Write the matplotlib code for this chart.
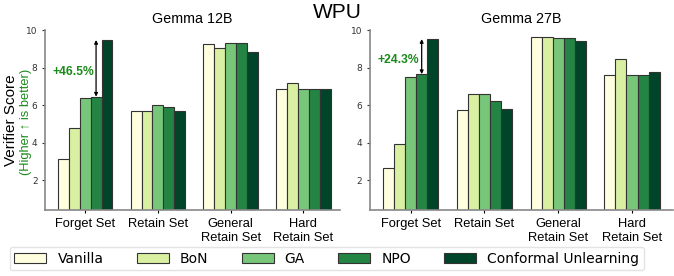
import numpy as np
import matplotlib.pyplot as plt

categories = ["Forget Set", "Retain Set", "General\nRetain Set", "Hard\nRetain Set"]
methods = ["Vanilla", "BoN", "GA", "NPO", "Conformal Unlearning"]
colors = ["#ffffe0", "#d9f0a3", "#78c679", "#238443", "#004529"]

# rows = methods, cols = categories
gemma12 = [
    [3.1, 5.7, 9.25, 6.85],
    [4.75, 5.7, 9.05, 7.2],
    [6.4, 6.0, 9.33, 6.85],
    [6.45, 5.9, 9.33, 6.88],
    [9.47, 5.68, 8.85, 6.87],
]
gemma27 = [
    [2.62, 5.73, 9.62, 7.6],
    [3.92, 6.57, 9.62, 8.44],
    [7.51, 6.57, 9.56, 7.6],
    [7.65, 6.21, 9.6, 7.6],
    [9.52, 5.8, 9.44, 7.76],
]
panels = [("Gemma 12B", gemma12, "+46.5%"), ("Gemma 27B", gemma27, "+24.3%")]

fig = plt.figure(figsize=(6.74, 2.76), dpi=100)
axes = [fig.add_axes([0.067, 0.239, 0.437, 0.652]),
        fig.add_axes([0.549, 0.239, 0.45, 0.652])]

x = np.arange(len(categories))
w = 0.15
for ax, (name, vals, gain) in zip(axes, panels):
    for i, m in enumerate(methods):
        ax.bar(x + (i - 2) * w, vals[i], w, color=colors[i], edgecolor="#333333",
               linewidth=0.8, label=m)
    ax.set_xlim(-0.55, 3.5 if ax is axes[0] else 3.56)
    ax.set_ylim(0.4, 10)
    ax.set_yticks([2, 4, 6, 8, 10])
    ax.set_xticks(x)
    ax.set_xticklabels(categories, family="Liberation Sans", fontsize=9.3)
    ax.tick_params(axis="y", labelsize=6.5, length=2, colors="#333333")
    ax.tick_params(axis="x", length=2, pad=4)
    for s in ["top", "right"]:
        ax.spines[s].set_visible(False)
    for s in ["left", "bottom"]:
        ax.spines[s].set_color("#888888")
        ax.spines[s].set_linewidth(1.2)
    ax.set_title(name, family="Liberation Sans", fontsize=10.3, pad=5)
    # improvement arrow NPO -> Conformal Unlearning on forget set
    xa = x[0] + w
    ax.annotate("", xy=(xa, vals[4][0]), xytext=(xa, vals[3][0]),
                arrowprops=dict(arrowstyle="<|-|>", color="black", lw=0.9,
                                mutation_scale=5, shrinkA=0, shrinkB=0))
    ty = 7.75 if ax is axes[0] else 8.4
    ax.text(xa - 0.03, ty, gain, color="#1a8a1a", fontsize=8.7, fontweight="bold",
            family="Liberation Sans", ha="right", va="center")

fig.suptitle("WPU", family="Liberation Sans", fontsize=15, y=0.99)
fig.text(0.017, 0.565, "Verifier Score", rotation=90, ha="center", va="center",
         family="Liberation Sans", fontsize=11)
fig.text(0.038, 0.56, "(Higher \u2191 is better)", rotation=90, ha="center", va="center",
         family="Liberation Sans", fontsize=9.3, color="#1a8a1a")

handles, labels = axes[0].get_legend_handles_labels()
fig.legend(handles, labels, loc="lower center", bbox_to_anchor=(0.485, -0.005), ncol=5,
           fontsize=10, frameon=True, handlelength=2.3, handleheight=0.7,
           columnspacing=2.4, borderpad=0.35, edgecolor="#dddddd")

fig.savefig("out.png", dpi=100)
